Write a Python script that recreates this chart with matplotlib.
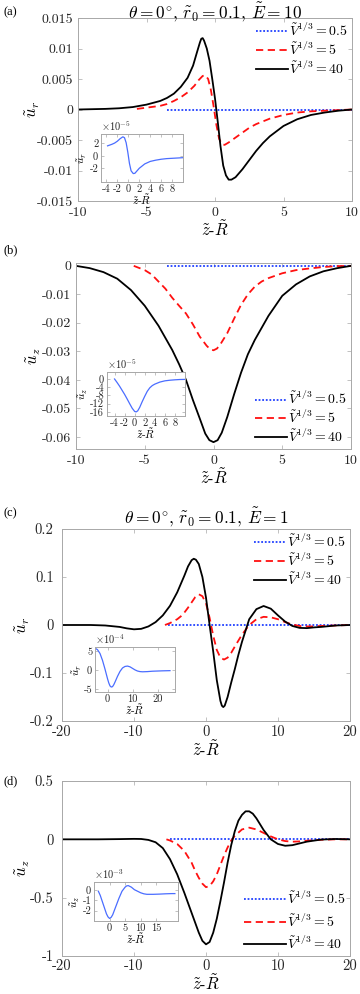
import numpy as np
import matplotlib
matplotlib.use('Agg')
import matplotlib.pyplot as plt
from matplotlib.ticker import FuncFormatter

plt.rcParams['font.family'] = ['cmr10', 'DejaVu Serif']
plt.rcParams['mathtext.fontset'] = 'cm'
plt.rcParams['axes.unicode_minus'] = False

# ---- panel (a): u_r, E = 10 ----
xa_05 = [-3.5, 0, 5, 10]
ua_05 = [0, 0, 0, 0]
xa_5 = [-5.7, -5, -4, -3.5, -3, -2.5, -2, -1.5, -1.2, -0.9, -0.7, -0.5, -0.3, -0.1, 0.1, 0.3,
        0.5, 0.7, 1.0, 1.5, 2, 2.5, 3, 4, 5, 6, 7, 8, 9, 10]
ua_5 = [0.0001, 0.0003, 0.0006, 0.0009, 0.0014, 0.002, 0.0028, 0.0039, 0.0048, 0.0055, 0.0056,
        0.0050, 0.0032, 0.0005, -0.0025, -0.0048, -0.0057, -0.0058, -0.0054, -0.0046, -0.0038,
        -0.003, -0.0024, -0.0015, -0.0009, -0.0005, -0.0003, -0.0002, -0.0001, 0]
xa_40 = [-10, -8, -7, -6, -5, -4, -3.5, -3, -2.5, -2, -1.6, -1.3, -1.1, -1.0, -0.9, -0.8, -0.6,
         -0.4, -0.2, 0, 0.2, 0.4, 0.6, 0.8, 1.0, 1.2, 1.5, 2, 2.5, 3, 3.5, 4, 5, 6, 7, 8, 9, 10]
ua_40 = [0, 0.0001, 0.0002, 0.0004, 0.0008, 0.0014, 0.0019, 0.0026, 0.0037, 0.0052, 0.0072,
         0.0095, 0.0110, 0.0116, 0.0117, 0.0113, 0.0100, 0.0080, 0.0050, 0.0018, -0.002, -0.006,
         -0.0092, -0.0108, -0.0115, -0.0115, -0.0111, -0.0098, -0.0083, -0.0068, -0.0055,
         -0.0044, -0.0027, -0.0016, -0.0009, -0.0005, -0.0002, 0]
xi_a = [-3.8, -3, -2.5, -2, -1.5, -1, -0.7, -0.4, -0.1, 0.2, 0.5, 0.9, 1.2, 1.5, 2, 3, 4, 5, 6, 7,
        8, 9, 10]
ui_a = [1.6, 1.85, 2.05, 2.35, 2.75, 3.05, 2.9, 2.1, 0.6, -1.2, -2.4, -2.85, -2.8, -2.5, -2.0,
        -1.3, -0.9, -0.7, -0.55, -0.45, -0.4, -0.35, -0.3]

# ---- panel (b): u_z, E = 10 ----
xb_05 = [-3.4, 0, 5, 10]
ub_05 = [0, 0, 0, 0]
xb_5 = [-5.8, -5, -4.5, -4, -3.5, -3, -2.5, -2, -1.5, -1, -0.5, -0.25, 0, 0.25, 0.5, 1, 1.5, 2,
        2.5, 3, 3.5, 4, 5, 6, 7, 8, 9, 10]
ub_5 = [0, -0.0015, -0.003, -0.0055, -0.008, -0.0112, -0.014, -0.0167, -0.0205, -0.0248, -0.028,
        -0.0292, -0.0296, -0.0290, -0.0275, -0.0236, -0.0185, -0.0137, -0.0100, -0.0073,
        -0.0055, -0.0043, -0.0026, -0.0015, -0.0009, -0.0004, -0.0001, 0]
xb_40 = [-10, -9, -8, -7, -6, -5, -4, -3, -2.5, -2, -1.5, -1, -0.6, -0.3, 0, 0.3, 0.6, 1, 1.5, 2,
         2.5, 3, 4, 5, 6, 7, 8, 9, 10]
ub_40 = [0, -0.0008, -0.0022, -0.0045, -0.0085, -0.0140, -0.021, -0.0295, -0.0345, -0.040,
         -0.047, -0.0535, -0.0588, -0.0611, -0.0618, -0.0611, -0.0585, -0.053, -0.045, -0.0375,
         -0.031, -0.026, -0.0175, -0.0105, -0.0065, -0.0037, -0.0019, -0.0008, 0]
xi_b = [-4, -3.5, -3, -2.5, -2, -1.5, -1, -0.5, 0, 0.3, 0.6, 1, 1.5, 2, 2.5, 3, 3.5, 4, 5, 6, 7,
        8, 9, 10]
ui_b = [0, -1.7, -3.5, -5.5, -7.5, -9.7, -12, -14.2, -15.8, -16, -15.5, -13.8, -11, -8.4, -6,
        -4.3, -3.2, -2.5, -1.5, -0.9, -0.6, -0.4, -0.25, -0.2]

# ---- panel (c): u_r, E = 1 ----
xc_05 = [-5.3, 0, 10, 20]
uc_05 = [0, 0, 0, 0]
xc_5 = [-5.7, -5, -4, -3.5, -3, -2.5, -2, -1.5, -1, -0.5, 0, 0.5, 1, 1.5, 2, 2.5, 3, 3.5, 4, 5,
        6, 7, 8, 9, 10, 11, 12, 13, 14, 15, 16, 18, 20]
uc_5 = [0, 0.004, 0.012, 0.018, 0.026, 0.036, 0.047, 0.058, 0.064, 0.06, 0.045, 0.015, -0.022,
        -0.052, -0.068, -0.072, -0.068, -0.058, -0.045, -0.02, 0.0, 0.012, 0.017, 0.016, 0.012,
        0.006, 0.001, -0.002, -0.003, -0.003, -0.002, -0.001, 0]
xc_40 = [-20, -16, -14, -12, -11, -10, -9, -8, -7, -6, -5, -4, -3, -2.5, -2, -1.7, -1.4, -1, -0.5,
         0, 0.5, 1, 1.5, 2, 2.2, 2.4, 2.6, 3, 3.5, 4, 4.5, 5, 6, 7, 8, 9, 10, 11, 12, 13, 14, 15,
         16, 18, 20]
uc_40 = [0, 0, -0.001, -0.004, -0.007, -0.009, -0.008, -0.003, 0.006, 0.02, 0.04, 0.068, 0.103,
         0.122, 0.135, 0.138, 0.136, 0.127, 0.1, 0.057, 0.0, -0.055, -0.115, -0.158, -0.168,
         -0.171, -0.168, -0.15, -0.12, -0.092, -0.062, -0.035, 0.012, 0.033, 0.0396, 0.034,
         0.02, 0.007, -0.002, -0.006, -0.0065, -0.005, -0.004, -0.001, 0]
xi_c = [-4.5, -4, -3, -2, -1, 0, 0.5, 1, 1.5, 2, 2.5, 3, 4, 5, 6, 7, 8, 9, 10, 11, 12, 13, 14,
        16, 18, 20, 22, 25]
ui_c = [5.5, 5.3, 4.3, 2.5, 0.2, -2.3, -3.4, -4.2, -4.5, -4.4, -3.9, -3.2, -1.7, -0.4, 0.5, 0.9,
        1.0, 0.8, 0.4, 0.0, -0.3, -0.45, -0.5, -0.45, -0.35, -0.3, -0.25, -0.2]

# ---- panel (d): u_z, E = 1 ----
xd_05 = [-5, 0, 10, 20]
ud_05 = [0, 0, 0, 0]
xd_5 = [-5.5, -5, -4, -3, -2, -1.5, -1, -0.5, 0, 0.5, 1, 1.5, 2, 2.5, 3, 3.5, 4, 5, 6, 7, 8, 9,
        10, 11, 12, 13, 14, 16, 18, 20]
ud_5 = [0, -0.01, -0.04, -0.1, -0.2, -0.27, -0.33, -0.38, -0.41, -0.4, -0.36, -0.3, -0.22, -0.14,
        -0.07, -0.01, 0.03, 0.085, 0.1, 0.085, 0.055, 0.025, 0.0, -0.015, -0.02, -0.018, -0.012,
        -0.004, 0, 0]
xd_40 = [-20, -15, -12, -10, -9, -8, -7, -6, -5, -4, -3, -2, -1, -0.5, 0, 0.5, 1, 1.5, 2, 2.5, 3,
         3.5, 4, 4.5, 5, 5.5, 6, 6.5, 7, 7.5, 8, 8.5, 9, 10, 11, 12, 13, 14, 16, 18, 20]
ud_40 = [0, 0, 0.002, 0.004, 0.003, -0.005, -0.025, -0.075, -0.17, -0.3, -0.46, -0.63, -0.8,
         -0.87, -0.9, -0.88, -0.8, -0.68, -0.53, -0.37, -0.2, -0.05, 0.07, 0.16, 0.21, 0.24,
         0.24, 0.22, 0.18, 0.13, 0.08, 0.04, 0.0, -0.04, -0.055, -0.05, -0.035, -0.02, -0.002,
         0.003, 0]
xi_d = [-3.6, -3, -2, -1, -0.5, 0, 0.5, 1, 2, 3, 4, 5, 5.5, 6, 7, 8, 9, 10, 11, 12, 14, 16, 18,
        20, 21]
ui_d = [-0.1, -0.5, -1.4, -2.3, -2.6, -2.75, -2.65, -2.4, -1.6, -0.8, -0.1, 0.3, 0.42, 0.45,
        0.3, 0.05, -0.1, -0.25, -0.35, -0.4, -0.4, -0.38, -0.35, -0.33, -0.33]

legend_labels = [r'$\tilde{V}^{1/3}=0.5$', r'$\tilde{V}^{1/3}=5$', r'$\tilde{V}^{1/3}=40$']
xlab = r'$\tilde{z}$-$\tilde{R}$'

W, H = 360, 994
fig = plt.figure(figsize=(3.6, 9.94), dpi=100)
GREY = '#a8a8a8'
fmt = FuncFormatter(lambda v, p: '%g' % v)


def rect(x0, y0, x1, y1):
    return [x0 / W, 1 - y1 / H, (x1 - x0) / W, (y1 - y0) / H]


def style(ax, fs, ln, xpad, ypad):
    for s in ax.spines.values():
        s.set_color(GREY)
        s.set_linewidth(0.7)
    ax.tick_params(direction='in', top=True, right=True, length=ln, width=0.5,
                   color=GREY, labelsize=fs, labelcolor='#262626')
    ax.tick_params(axis='x', pad=xpad)
    ax.tick_params(axis='y', pad=ypad)
    ax.xaxis.set_major_formatter(fmt)
    ax.yaxis.set_major_formatter(fmt)


def main_panel(box, data, xlim, ylim, xt, yt, ylab, ylab_x, leg_loc, leg_anchor, spacing, hl,
               fs, xpad, ypad):
    ax = fig.add_axes(rect(*box))
    (x1, u1), (x2, u2), (x3, u3) = data
    ax.plot(x1, u1, color='#2040ff', lw=1.3, dashes=(1, 1), label=legend_labels[0])
    ax.plot(x2, u2, color='#ff1010', lw=1.3, dashes=(4, 2.5), label=legend_labels[1])
    ax.plot(x3, u3, color='black', lw=1.3, label=legend_labels[2])
    ax.set_xlim(xlim)
    ax.set_ylim(ylim)
    ax.set_xticks(xt)
    ax.set_yticks(yt)
    style(ax, fs, 3, xpad, ypad)
    ax.set_xlabel(xlab, fontsize=12, labelpad=0)
    ax.set_ylabel(ylab, fontsize=12)
    # ylabel right edge placed at pixel column ylab_x
    ax.yaxis.set_label_coords((ylab_x - box[0]) / (box[2] - box[0]), 0.5)
    ax.legend(loc=leg_loc, bbox_to_anchor=leg_anchor, frameon=False, fontsize=10,
              handlelength=hl, handletextpad=0.1, labelspacing=spacing,
              borderpad=0.1, borderaxespad=0.2)
    return ax


def inset(box, x, u, xlim, ylim, xt, yt, ylab, exp):
    ax = fig.add_axes(rect(*box))
    ax.plot(x, u, color='#4a6dff', lw=0.9)
    ax.set_xlim(xlim)
    ax.set_ylim(ylim)
    ax.set_xticks(xt)
    ax.set_yticks(yt)
    style(ax, 7.5, 2, 1.5, 2)
    ax.set_xlabel(xlab, fontsize=8, labelpad=-1)
    ax.set_ylabel(ylab, fontsize=8, labelpad=0)
    ax.text(0.0, 1.03, r'$\times10^{%d}$' % exp, transform=ax.transAxes, fontsize=7.5,
            ha='left', va='bottom', color='#262626')
    return ax


# (a)
ax = main_panel((78, 18, 352, 201), [(xa_05, ua_05), (xa_5, ua_5), (xa_40, ua_40)],
                (-10, 10), (-0.015, 0.015), [-10, -5, 0, 5, 10],
                [-0.015, -0.01, -0.005, 0, 0.005, 0.01, 0.015], r'$\tilde{u}_r$', 42,
                'upper right', (1.0, 1.0), 0.12, 2.3, 10, 4, 3.5)
ax.set_title(r'$\theta=0^{\circ}$, $\tilde{r}_0=0.1$, $\tilde{E}=10$', fontsize=12.5, pad=0.5)
inset((101, 134, 183, 182), xi_a, ui_a, (-5, 10), (-4.2, 3.5), [-4, -2, 0, 2, 4, 6, 8],
      [-2, 0, 2], r'$\tilde{u}_r$', -5)

# (b)
main_panel((76, 263, 351, 449), [(xb_05, ub_05), (xb_5, ub_5), (xb_40, ub_40)],
           (-10, 10), (-0.0642, 0.001), [-10, -5, 0, 5, 10],
           [-0.06, -0.05, -0.04, -0.03, -0.02, -0.01, 0], r'$\tilde{u}_z$', 43,
           'lower right', (1.0, 0.0), 0.12, 2.3, 10, 4, 3.5)
inset((107, 372, 185, 416), xi_b, ui_b, (-5.5, 10), (-18, 3.4), [-4, -2, 0, 2, 4, 6, 8],
      [-16, -12, -8, -4, 0], r'$\tilde{u}_z$', -5)

# (c)
ax = main_panel((62, 529, 350, 721), [(xc_05, uc_05), (xc_5, uc_5), (xc_40, uc_40)],
                (-20, 20), (-0.2, 0.2), [-20, -10, 0, 10, 20],
                [-0.2, -0.1, 0, 0.1, 0.2], r'$\tilde{u}_r$', 32,
                'upper right', (1.0, 1.0), 0.12, 2.3, 10.5, 3, 6)
ax.set_title(r'$\theta=0^{\circ}$, $\tilde{r}_0=0.1$, $\tilde{E}=1$', fontsize=12.5, pad=5)
inset((95, 647, 175, 692), xi_c, ui_c, (-5, 27), (-5.8, 6), [0, 10, 20],
      [-5, 0, 5], r'$\tilde{u}_r$', -4)

# (d)
main_panel((62, 781, 350, 956), [(xd_05, ud_05), (xd_5, ud_5), (xd_40, ud_40)],
           (-20, 20), (-1, 0.5), [-20, -10, 0, 10, 20],
           [-1, -0.5, 0, 0.5], r'$\tilde{u}_z$', 32,
           'lower right', (1.0, 0.0), 0.38, 3.0, 10.5, 2.5, 6)
inset((94, 882, 178, 921), xi_d, ui_d, (-5, 22), (-3, 0.8), [0, 5, 10, 15],
      [-2, -1, 0], r'$\tilde{u}_z$', -3)

for lab, y in [('(a)', 12), ('(b)', 250), ('(c)', 513), ('(d)', 781)]:
    fig.text(3 / W, 1 - y / H, lab, fontsize=9, family='Liberation Serif',
             ha='left', va='center')

fig.savefig('out.png', dpi=100)
